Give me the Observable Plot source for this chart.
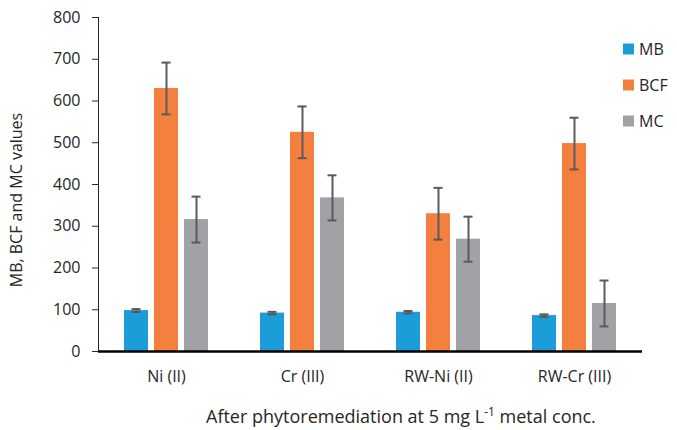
<!DOCTYPE html>
<html>
<head>
<meta charset="utf-8">
<script src="https://cdn.jsdelivr.net/npm/d3@7"></script>
<script src="https://cdn.jsdelivr.net/npm/@observablehq/plot@0.6"></script>
<style>
  html, body { margin: 0; padding: 0; background: #fff; }
  #chart svg { display: block; }
</style>
</head>
<body>
<div id="chart"></div>
<script>
const categories = ["Ni (II)", "Cr (III)", "RW-Ni (II)", "RW-Cr (III)"];
const series = ["MB", "BCF", "MC"];
const mbValues = [98, 92, 94, 86];
const mbErrors = [3.5, 3, 3, 3];
const bcfValues = [630, 525, 330, 498];
const bcfErrors = [62, 62, 62, 62];
const mcValues = [316, 368, 269, 115];
const mcErrors = [55, 54, 54, 55];
const seriesColors = ["#1b9dd9", "#f3803e", "#a0a2a6"];
const yTicks = [0, 100, 200, 300, 400, 500, 600, 700, 800];
const yTitle = "MB, BCF and MC values";
const xTitle = ["After phytoremediation at 5 mg L", "-1", " metal conc."];

const valueSets = [mbValues, bcfValues, mcValues];
const errorSets = [mbErrors, bcfErrors, mcErrors];
const table = [];
categories.forEach((c, i) => {
  series.forEach((s, j) => {
    table.push({cat: c, series: s, value: valueSets[j][i], err: errorSets[j][i]});
  });
});

const errColor = "#5a5a5a";
const chart = Plot.plot({
  width: 677,
  height: 430,
  marginLeft: 96,
  marginRight: 34,
  marginTop: 17,
  marginBottom: 79,
  style: {fontFamily: "'Open Sans', sans-serif", fontSize: "16px", color: "#262626", background: "#fff", overflow: "visible"},
  facet: {data: table, x: "cat"},
  fx: {domain: categories, padding: 0, label: null, tickSize: 0, tickPadding: 19},
  x: {domain: series, axis: null, paddingInner: 0.2, paddingOuter: 0.84},
  y: {domain: [0, 800], ticks: yTicks, tickSize: 6, tickPadding: 12, label: null, line: true, grid: false},
  color: {domain: series, range: seriesColors},
  marks: [
    Plot.barY(table, {x: "series", y: "value", fill: "series"}),
    Plot.ruleX(table, {x: "series", y1: d => d.value - d.err, y2: d => d.value + d.err, stroke: errColor, strokeWidth: 2}),
    Plot.tickY(table, {x: "series", y: d => d.value + d.err, stroke: errColor, strokeWidth: 2, insetLeft: 7.5, insetRight: 7.5}),
    Plot.tickY(table, {x: "series", y: d => d.value - d.err, stroke: errColor, strokeWidth: 2, insetLeft: 7.5, insetRight: 7.5}),
    Plot.ruleY([0], {stroke: "#000", strokeWidth: 2.5})
  ]
});

const svg = d3.select(chart);
svg.selectAll("[aria-label='y-axis'] path, [aria-label='y-axis'] line").attr("stroke", "#000");

// y title
svg.append("text")
  .attr("transform", "translate(21.5,200) rotate(-90)")
  .attr("text-anchor", "middle")
  .attr("fill", "#262626")
  .style("font-family", "'Open Sans', sans-serif")
  .style("font-size", "16px")
  .text(yTitle);

// x title
const xt = svg.append("text")
  .attr("x", 206).attr("y", 423)
  .attr("text-anchor", "start")
  .attr("fill", "#262626")
  .style("font-family", "'Open Sans', sans-serif")
  .style("font-size", "18px");
xt.append("tspan").text(xTitle[0]);
xt.append("tspan").attr("dy", -7).style("font-size", "12px").text(xTitle[1]);
xt.append("tspan").attr("dy", 7).text(xTitle[2]);

// legend
const legendY = [49, 85, 121];
series.forEach((s, i) => {
  svg.append("rect").attr("x", 623).attr("y", legendY[i] - 5.5).attr("width", 11).attr("height", 11).attr("fill", seriesColors[i]);
  svg.append("text").attr("x", 639).attr("y", legendY[i]).attr("dy", "0.36em")
    .attr("text-anchor", "start")
    .attr("fill", "#262626")
    .style("font-family", "'Open Sans', sans-serif").style("font-size", "16px").text(s);
});

document.getElementById("chart").appendChild(chart);
</script>
</body>
</html>
